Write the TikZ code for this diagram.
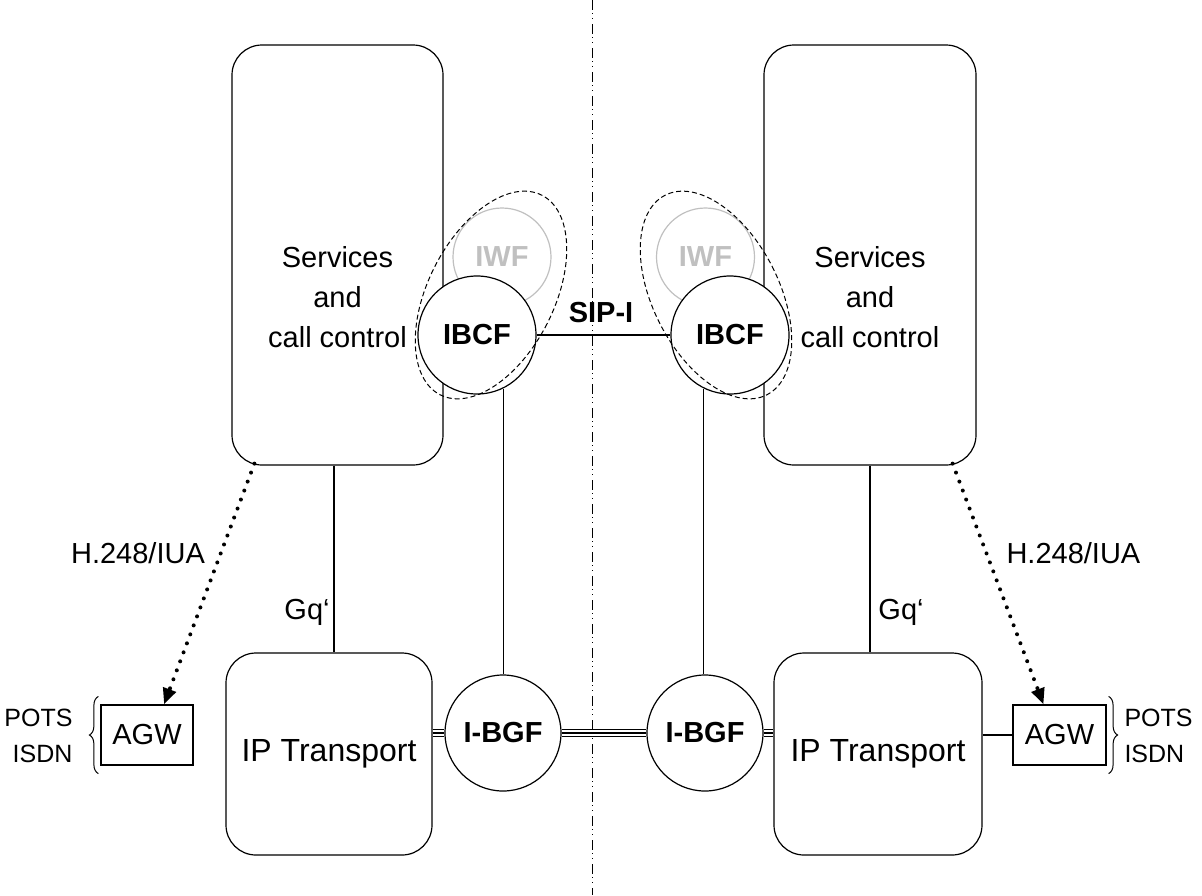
\documentclass[tikz,border=0pt]{standalone}
\usepackage{fontspec}
\setmainfont{Liberation Sans}
\usetikzlibrary{arrows.meta,decorations.pathreplacing}

\definecolor{iwfgray}{RGB}{192,192,192}

\tikzset{
  fcircle/.style={circle,draw,fill=white,line width=1.2pt,inner sep=0pt,
    minimum size=118pt,font=\fontsize{29}{34}\selectfont\bfseries},
  iwfcircle/.style={circle,draw=iwfgray,text=iwfgray,line width=1.2pt,inner sep=0pt,
    minimum size=98pt,font=\fontsize{29}{34}\selectfont\bfseries},
  tripleline/.style={line width=1.1pt,
    preaction={draw,line width=8.2pt},
    preaction={draw,white,line width=6pt}},
  ctrlarrow/.style={line width=4pt,line cap=round,dash pattern=on 0pt off 9.6pt,
    -{Triangle[length=16pt,width=13pt]}},
  bracket/.style={decorate,decoration={brace,amplitude=9pt},line width=1pt}
}

\begin{document}
\begin{tikzpicture}[x=1pt,y=-1pt,every node/.style={font=\fontsize{29}{40}\selectfont}]
\useasboundingbox (0,0) rectangle (1202,895);

% dividing line between the two networks
\coordinate (divT) at (592,0);
\coordinate (divB) at (592,895);
\draw[line width=1pt,dash pattern=on 10pt off 3pt on 1pt off 4pt on 1pt off 5pt] (divT) -- (divB);

\begin{scope}[every node/.style={draw,line width=1.2pt,rounded corners=30pt,inner sep=0pt}]
    \node[minimum width=211pt,minimum height=420pt] (svcL) at (337.5,255) {};
    \node[minimum width=212pt,minimum height=420pt] (svcR) at (870,255) {};
    \node[minimum width=206pt,minimum height=202pt,font=\fontsize{32}{38}\selectfont] (iptL) at (329,754) {IP Transport};
    \node[minimum width=208pt,minimum height=202pt,font=\fontsize{32}{38}\selectfont] (iptR) at (878,754) {IP Transport};
\end{scope}

\node[align=center] (svcLtxt) at (337.5,297) {Services\\and\\call control};
\node[align=center] (svcRtxt) at (870,297) {Services\\and\\call control};

\node[iwfcircle] (iwfL) at (502,257) {IWF};
\node[iwfcircle] (iwfR) at (705.5,257) {IWF};

\node[fcircle] (ibcfL) at (477,335) {IBCF};
\node[fcircle] (ibcfR) at (730,335) {IBCF};
\node[fcircle,minimum size=116pt] (ibgfL) at (503,733) {I-BGF};
\node[fcircle,minimum size=116pt] (ibgfR) at (705,733) {I-BGF};

\draw[dash pattern=on 5pt off 3pt,line width=1pt,rotate around={-27:(491,295)}]
    (491,295) ellipse [x radius=63,y radius=112];
\draw[dash pattern=on 5pt off 3pt,line width=1pt,rotate around={27:(716,295)}]
    (716,295) ellipse [x radius=63,y radius=112];

\node[draw,line width=1.2pt,minimum width=92pt,minimum height=60pt] (agwL) at (147,735) {AGW};
\node[draw,line width=1.2pt,minimum width=93pt,minimum height=60pt] (agwR) at (1059.5,735) {AGW};

\node[anchor=east,align=right,font=\fontsize{25}{36}\selectfont] (potsL) at (76,736) {POTS\\ISDN};
\node[anchor=west,align=left,font=\fontsize{25}{36}\selectfont] (potsR) at (1121,736) {POTS\\ISDN};

\coordinate (gqL) at (334,0);
\coordinate (gqR) at (870,0);

\node (sipi) at (601,313) {\bfseries SIP-I};
\node (gqLlbl) at (307,612) {Gq‘};
\node (gqRlbl) at (901,612) {Gq‘};
\node (h248L) at (138,553) {H.248/IUA};
\node[anchor=west] (h248R) at (1003,553) {H.248/IUA};

\begin{scope}[every edge/.style={draw=black,line width=1.2pt}]
    \path (ibcfL) edge (ibcfR);
    \path (svcL.south -| gqL) edge (iptL.north -| gqL);
    \path (svcR.south -| gqR) edge (iptR.north -| gqR);
    \path (ibcfL.-64) edge (ibcfL.-64 |- ibgfL.north);
    \path (ibcfR.-116) edge (ibcfR.-116 |- ibgfR.north);
    \path (iptR.east |- agwR) edge (agwR.west);
\end{scope}

\draw[tripleline] (iptL.east |- ibgfL) -- (ibgfL.west);
\draw[tripleline] (ibgfL.east) -- (ibgfR.west);
\draw[tripleline] (ibgfR.east) -- (ibgfR.east -| iptR.west);

\draw[ctrlarrow] ([shift={(23pt,2pt)}]svcL.south west) -- ([xshift=17pt]agwL.north);
\draw[ctrlarrow] ([shift={(-24pt,2pt)}]svcR.south east) -- ([xshift=-16pt]agwR.north);

\draw[bracket] ([shift={(-2pt,-8pt)}]agwL.south west) -- ([shift={(-2pt,8pt)}]agwL.north west);
\draw[bracket] ([shift={(2pt,8pt)}]agwR.north east) -- ([shift={(2pt,-8pt)}]agwR.south east);
\end{tikzpicture}
\end{document}
